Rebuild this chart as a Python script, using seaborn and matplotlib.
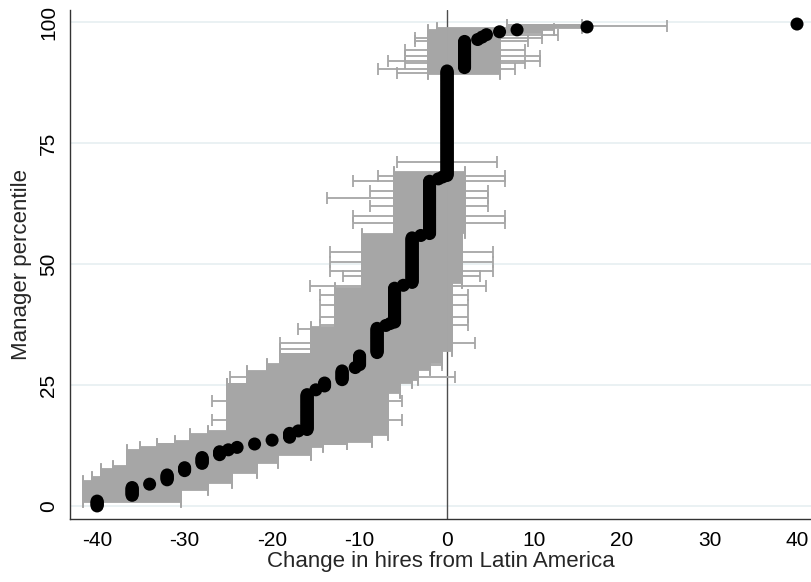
import numpy as np
import pandas as pd
import matplotlib
matplotlib.use("Agg")
import matplotlib.pyplot as plt
import seaborn as sns

# ---------------- data ----------------
# runs of managers sharing the same estimated change (percentile start/end)
run_pct_start = [0.0, 2.2, 4.5, 5.4, 7.3, 8.8, 10.6, 11.6, 12.1, 12.8,
                 13.6, 14.2, 15.5, 15.8, 24.0, 24.8, 26.1, 28.6, 29.2, 31.7,
                 37.3, 37.7, 38.0, 45.6, 46.2, 55.9, 56.3, 67.6, 68.0, 68.3,
                 90.6, 96.4, 96.9, 97.4, 98.0, 98.4, 99.0, 99.6]
run_pct_end = [1.0, 3.8, 4.5, 6.4, 7.9, 10.0, 11.2, 11.6, 12.1, 12.8,
               13.6, 15.0, 15.5, 23.1, 24.0, 25.5, 28.0, 28.6, 31.1, 36.8,
               37.3, 37.7, 45.1, 45.6, 55.4, 55.9, 67.1, 67.6, 68.0, 89.9,
               96.1, 96.4, 96.9, 97.4, 98.0, 98.4, 99.0, 99.6]
run_change = [-40, -36, -34, -32, -30, -28, -26, -25, -24, -22,
              -20, -18, -17, -16, -15, -14, -12, -10.5, -10, -8,
              -7, -6.5, -6, -5, -4, -3, -2, -1, -0.5, 0,
              2, 3.5, 4, 4.5, 6, 8, 16, 40]

# confidence-interval bands (percentile ranges that carry intervals)
band_start = [0.9, 89.3]
band_end = [69.1, 99.6]
# lower bound of the interval, piecewise by percentile
lo_start = [0.9, 5.2, 6.0, 7.8, 8.5, 11.6, 12.3, 13.0, 13.6, 15.0, 15.7,
            25.4, 28.1, 29.5, 31.6, 37.0, 45.2, 56.4,
            89.3, 98.4, 98.8]
lo_value = [-41.6, -40.6, -39.5, -38.2, -36.6, -35.1, -33.2, -31.1, -29.4, -27.3, -25.2,
            -22.9, -20.6, -19.1, -15.6, -12.8, -9.75, -6.1,
            -2.2, -1.2, 6.8]
# upper bound of the interval, piecewise by percentile
hi_start = [0.9, 3.3, 4.7, 6.8, 8.9, 10.5, 12.0, 12.7, 13.3, 14.6, 23.3,
            25.4, 26.0, 28.0, 29.5, 32.0, 46.0, 56.4,
            89.3, 97.6, 98.2, 98.6]
hi_value = [-30.4, -27.3, -24.6, -21.7, -19.3, -15.6, -14.2, -11.4, -8.6, -6.7, -5.4,
            -4.0, -3.3, -1.9, -0.6, 0.6, 1.7, 2.1,
            6.1, 10.8, 12.2, 15.4]

# individual wider intervals sticking out of the band
wide_pct = [17.8, 21.7, 26.7, 29.1, 32.5, 33.6, 36.6, 37.4, 39.0, 41.5, 43.5,
            45.5, 47.5, 48.5, 50.5, 52.5, 58.5, 60.0, 62.0, 63.7, 65.0, 67.2,
            68.2, 71.0, 89.5, 90.3, 91.5, 92.0, 93.0, 94.2, 96.0, 96.8, 97.3, 99.2]
wide_lo = [-26.9, -26.9, -24.8, -20.6, -19.1, -19.1, -17.0, -14.5, -14.5, -14.5, -14.5,
           -15.7, -11.9, -13.4, -13.4, -13.4, -10.7, -10.7, -8.8, -13.7, -8.8, -10.7,
           -7.9, -5.75, -5.75, -7.9, -4.8, -6.7, -4.8, -4.8, -3.7, -3.7, -2.2, 6.8]
wide_hi = [-5.2, -5.2, 0.9, -0.6, 0.6, 3.2, 0.6, 2.4, 2.4, 2.4, 2.4,
           4.5, 3.8, 5.3, 5.3, 5.3, 6.6, 6.6, 4.7, 4.7, 4.7, 6.6,
           6.6, 5.7, 6.1, 7.8, 8.9, 10.6, 10.6, 8.9, 9.3, 10.8, 12.7, 25.1]

x_ticks = [-40, -30, -20, -10, 0, 10, 20, 30, 40]
y_ticks = [0, 25, 50, 75, 100]

# ---------------- build tables ----------------
STEP = 0.2
pts_pct, pts_chg = [], []
for s, e, c in zip(run_pct_start, run_pct_end, run_change):
    p = np.arange(s, e + 1e-9, STEP) if e > s else np.array([s])
    pts_pct.extend(p)
    pts_chg.extend([c] * len(p))
dots = pd.DataFrame({"pct": pts_pct, "change": pts_chg})

ci_pct = np.concatenate([np.arange(s, e + 1e-9, STEP) for s, e in zip(band_start, band_end)])
ci_lo = np.array(lo_value)[np.searchsorted(lo_start, ci_pct, side="right") - 1]
ci_hi = np.array(hi_value)[np.searchsorted(hi_start, ci_pct, side="right") - 1]
ci = pd.DataFrame({"pct": np.concatenate([ci_pct, wide_pct]),
                   "lo": np.concatenate([ci_lo, wide_lo]),
                   "hi": np.concatenate([ci_hi, wide_hi])})
ci["mid"] = (ci["lo"] + ci["hi"]) / 2

# ---------------- plot ----------------
sns.set_style("white")
plt.rcParams["font.family"] = ["Liberation Sans", "DejaVu Sans"]

W, H = 811, 582
fig = plt.figure(figsize=(W / 100, H / 100), dpi=100)
ax = fig.add_axes([70 / W, 63 / H, 741 / W, 509 / H])

gray = "#a6a6a6"
ax.errorbar(ci["mid"], ci["pct"], xerr=[ci["mid"] - ci["lo"], ci["hi"] - ci["mid"]],
            fmt="none", ecolor=gray, elinewidth=1.3, capsize=4, capthick=1.3, zorder=2)
sns.scatterplot(data=dots, x="change", y="pct", color="black", s=88,
                edgecolor="none", linewidth=0, ax=ax, zorder=3, legend=False)

ax.axvline(0, color="#4d4d4d", lw=1.0, zorder=1.5)

ax.set_xlim(-43.1, 41.6)
ax.set_ylim(-2.7, 102.5)
ax.set_xticks(x_ticks)
ax.set_xticklabels([str(t) for t in x_ticks])
ax.set_yticks(y_ticks)
ax.set_yticklabels([str(t) for t in y_ticks], rotation=90, va="center")

ax.grid(False)
ax.yaxis.grid(True, color="#e8f0f2", lw=1.3, zorder=0)
ax.set_axisbelow(True)

for side in ["top", "right"]:
    ax.spines[side].set_visible(False)
for side in ["left", "bottom"]:
    ax.spines[side].set_color("#333333")
    ax.spines[side].set_linewidth(1.0)
ax.tick_params(axis="both", direction="out", length=4.5, width=1.0, color="#333333",
               labelsize=15, pad=4, labelcolor="black")

ax.set_xlabel("Change in hires from Latin America", fontsize=16, labelpad=1)
ax.set_ylabel("Manager percentile", fontsize=16, labelpad=5)

fig.savefig("out.png", dpi=100)
